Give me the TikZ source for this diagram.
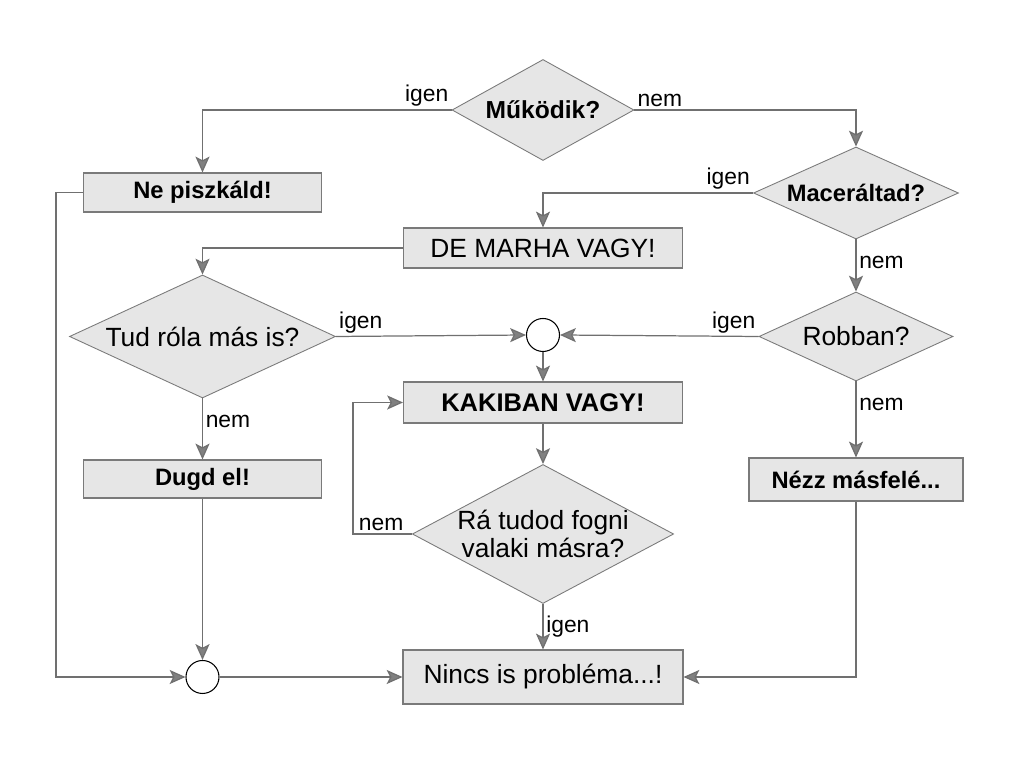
\documentclass[tikz,border=0pt]{standalone}
\usepackage{fontspec}
\setmainfont{Liberation Sans}
\usetikzlibrary{arrows.meta,positioning,shapes.geometric}
\definecolor{fcline}{HTML}{707070}
\definecolor{fcfill}{HTML}{E6E6E6}
\definecolor{fcedge}{HTML}{7A7A7A}
\definecolor{fctip}{HTML}{808080}

\tikzset{
  box/.style={draw=fcedge,fill=fcfill,line width=0.6pt,inner sep=1pt,font=\fontsize{15}{17}\selectfont},
  boldbox/.style={box,font=\bfseries\fontsize{13.5}{16}\selectfont},
  dec/.style={diamond,draw=fcedge,fill=fcfill,line width=0.5pt,inner sep=0pt,align=center,font=\fontsize{15}{16}\selectfont},
  junc/.style={circle,draw=black,fill=white,line width=0.6pt,minimum size=0.66cm,inner sep=0pt},
  lbl/.style={inner sep=1.5pt,font=\fontsize{13}{15}\selectfont},
  flow/.style={draw=fcline,line width=0.7pt,-{Stealth[length=9pt,width=8pt,inset=2pt,fill=fctip]}}
}

\begin{document}
\begin{tikzpicture}[x=1cm,y=1cm]
  \useasboundingbox (0,0) rectangle (20.48,15.36);
  % questions
  \node[dec,aspect=1.8,minimum width=3.64cm,minimum height=2.02cm,font=\bfseries\fontsize{14}{16}\selectfont] (work) at (10.86,13.16) {Működik?};
  \node[dec,aspect=2.23,minimum width=4.1cm,minimum height=1.84cm,font=\bfseries\fontsize{13.5}{16}\selectfont] (macer) at (17.12,11.50) {Maceráltad?};
  \node[dec,aspect=2.16,minimum width=5.32cm,minimum height=2.46cm] (tud) at (4.05,8.63) {Tud róla más is?};
  \node[dec,aspect=2.18,minimum width=3.88cm,minimum height=1.78cm] (robban) at (17.12,8.63) {Robban?};
  \node[dec,aspect=1.88,minimum width=5.2cm,minimum height=2.76cm] (fogni) at (10.86,4.68) {Rá tudod fogni\\valaki másra?};
  % actions
  \node[boldbox,minimum width=4.76cm,minimum height=0.78cm] (nepisz) at (4.05,11.51) {Ne piszkáld!};
  \node[box,minimum width=5.58cm,minimum height=0.80cm] (marha) at (10.86,10.40) {DE MARHA VAGY!};
  \node[boldbox,minimum width=5.58cm,minimum height=0.82cm,font=\bfseries\fontsize{14.5}{17}\selectfont] (kaki) at (10.86,7.31) {KAKIBAN VAGY!};
  \node[boldbox,minimum width=4.76cm,minimum height=0.76cm] (dugd) at (4.05,5.78) {Dugd el!};
  \node[boldbox,minimum width=4.28cm,minimum height=0.86cm] (nezz) at (17.12,5.77) {Nézz másfelé...};
  \node[box,minimum width=5.6cm,minimum height=1.08cm] (nincs) at (10.86,1.82) {Nincs is probléma...!};
  % junctions
  \node[junc] (join1) at (10.86,8.66) {};
  \node[junc] (join2) at (4.05,1.82) {};
  \coordinate (leftway) at (1.12,11.51);
  \coordinate (backway) at (7.06,4.68);

  \draw[flow] (work.west) node[lbl,anchor=south east] {igen} -| (nepisz.north);
  \draw[flow] (work.east) node[lbl,anchor=south west] {nem} -| (macer.north);
  \draw[flow] (macer.west) node[lbl,anchor=south east] {igen} -| (marha.north);
  \draw[flow] (macer.south) -- node[lbl,right,pos=0.45] {nem} (robban.north);
  \draw[flow] (marha.west) -| (tud.north);
  \draw[flow] (tud.east) node[lbl,anchor=south west] {igen} -- (join1.west);
  \draw[flow] (robban.west) node[lbl,anchor=south east] {igen} -- (join1.east);
  \draw[flow] (join1.south) -- (kaki.north);
  \draw[flow] (robban.south) -- node[lbl,right,pos=0.3] {nem} (nezz.north);
  \draw[flow] (tud.south) -- node[lbl,right,pos=0.38] {nem} (dugd.north);
  \draw[flow] (kaki.south) -- (fogni.north);
  \draw[flow] (fogni.west) node[lbl,anchor=south east,xshift=-3pt] {nem} -- (backway) |- (kaki.west);
  \draw[flow] (fogni.south) -- node[lbl,right] {igen} (nincs.north);
  \draw[flow] (nezz.south) |- (nincs.east);
  \draw[flow] (dugd.south) -- (join2.north);
  \draw[flow] (nepisz.west) -- (leftway) |- (join2.west);
  \draw[flow] (join2.east) -- (nincs.west);
\end{tikzpicture}
\end{document}
